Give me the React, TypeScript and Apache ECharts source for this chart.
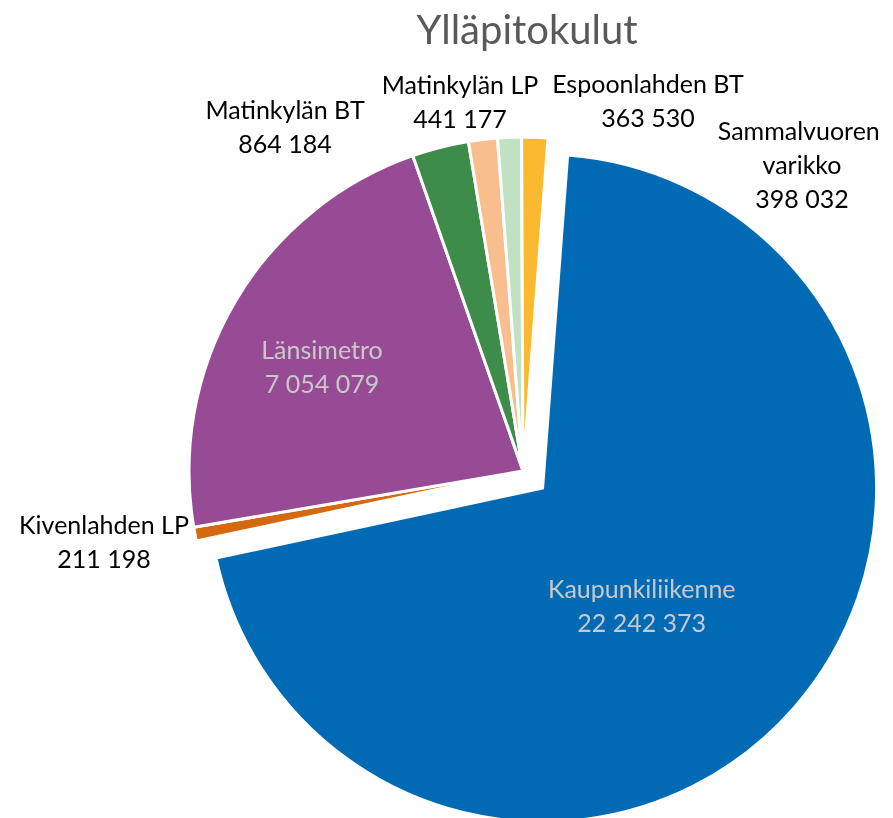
import React, { useEffect, useRef } from 'react';
import * as echarts from 'echarts';

const chartTitle = 'Ylläpitokulut';
const categories = [
  'Kaupunkiliikenne',
  'Kivenlahden LP',
  'Länsimetro',
  'Matinkylän BT',
  'Matinkylän LP',
  'Espoonlahden BT',
  'Sammalvuoren varikko',
];
const values = [22242373, 211198, 7054079, 864184, 441177, 363530, 398032];

// styles / layout (not data)
const colors = ['#006AB4', '#D4690F', '#974B94', '#3E8C4A', '#F9BE8E', '#C0E1C2', '#FAB92E'];
const insideLabels = [0, 2];
const explodedIndex = 0;
const explodedLabelOffset: [number, number] = [-29, 5];
const labelPos: [number, number][] = [
  [642, 605],
  [104, 541],
  [322, 366],
  [285, 126],
  [460, 101],
  [648, 100],
  [802, 164],
];

const fmt = (v: number) => String(v).replace(/\B(?=(\d{3})+(?!\d))/g, ' ');

export default function App() {
  const ref = useRef<HTMLDivElement>(null);
  useEffect(() => {
    const chart = echarts.init(ref.current!, null, { renderer: 'svg' });
    const data = categories.map((name, i) => {
      const item: any = { name, value: values[i], itemStyle: { color: colors[i] } };
      if (insideLabels.includes(i)) item.label = { position: 'inside', color: '#C9C9C9' };
      if (name === 'Sammalvuoren varikko') item.label = { width: 190, overflow: 'break' };
      if (i === explodedIndex) {
        item.selected = true;
        item.label = { ...item.label, offset: explodedLabelOffset };
        item.select = { label: { offset: explodedLabelOffset } };
      }
      return item;
    });
    chart.setOption({
      animation: false,
      title: {
        text: chartTitle,
        left: 522,
        textAlign: 'center',
        top: 4,
        textStyle: { fontFamily: 'Lato', fontSize: 40, fontWeight: 'normal', color: '#595959' },
      },
      series: [
        {
          type: 'pie',
          center: [523, 471],
          radius: 334,
          startAngle: 85.7,
          clockwise: true,
          selectedMode: 'single',
          selectedOffset: 26,
          avoidLabelOverlap: false,
          itemStyle: { borderColor: '#ffffff', borderWidth: 3 },
          select: { itemStyle: { borderColor: '#ffffff', borderWidth: 3 } },
          emphasis: { disabled: true },
          label: {
            show: true,
            position: 'outside',
            formatter: (p: any) => `${p.name}\n${fmt(p.value)}`,
            fontFamily: 'Lato',
            fontSize: 25,
            lineHeight: 34,
            color: '#000000',
            align: 'center',
          },
          labelLine: { show: false },
          labelLayout: (p: any) =>
            p.dataIndex === explodedIndex
              ? {}
              : {
                  x: labelPos[p.dataIndex][0],
                  y: labelPos[p.dataIndex][1],
                  align: 'center',
                  verticalAlign: 'middle',
                },
          data,
        },
      ],
    });
    return () => chart.dispose();
  }, []);
  return <div ref={ref} style={{ position: 'fixed', left: 0, top: 0, width: 893, height: 818 }} />;
}
